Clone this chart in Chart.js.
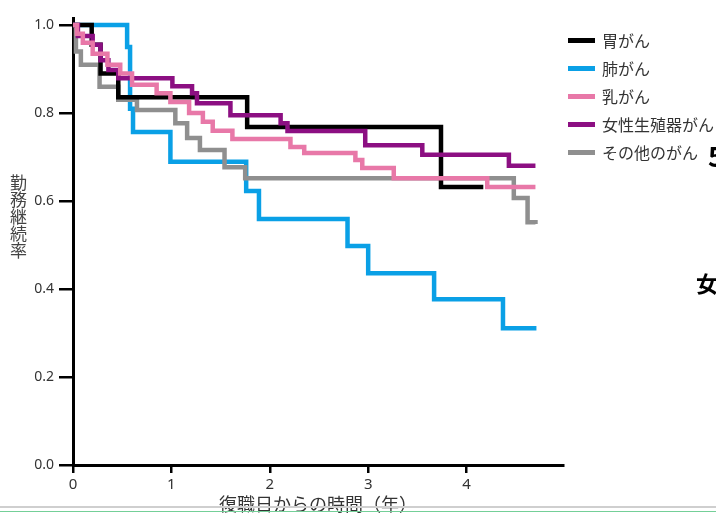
<!DOCTYPE html>
<html lang="ja">
<head>
<meta charset="UTF-8">
<title>勤務継続率</title>
<script src="https://cdn.jsdelivr.net/npm/chart.js"></script>
<style>
    html, body { margin: 0; padding: 0; background: #fff; overflow: hidden; }
    #wrap { position: relative; width: 716px; height: 513px; overflow: hidden; }
    canvas { position: absolute; left: 0; top: 0; }
    .ytitle {
        position: absolute; left: 10px; top: 174px;
        writing-mode: vertical-rl; text-orientation: upright;
        font: 17px "Noto Sans CJK JP"; line-height: 1; color: #444;
    }
    #legend { position: absolute; left: 568px; top: 28px; }
    .item { position: relative; height: 28px; white-space: nowrap; }
    .mark { position: absolute; left: 0; top: 10px; width: 27px; height: 5px; }
    .lbl { position: absolute; left: 34px; top: 0; font: 16px "Noto Sans CJK JP"; line-height: 24px; color: #333; }
    .cut { position: absolute; font-family: "Noto Sans CJK JP"; font-weight: bold; color: #000; }
    .rule { position: absolute; left: 0; width: 716px; }
</style>
</head>
<body>
<div id="wrap">
    <canvas id="kmChart" width="716" height="513"></canvas>
    <div class="ytitle">勤務継続率</div>
    <div id="legend"></div>
    <div class="cut" style="left:708px; top:136px; font-size:27px;">5</div>
    <div class="cut" style="left:696px; top:266px; font-size:22px;">女</div>
    <div class="rule" style="top:506px; height:2px; background:#cfcfcf;"></div>
    <div class="rule" style="top:511px; height:1px; background:#74cf98;"></div>
</div>

<script>
    // 系列名と色
    const seriesNames = ['胃がん', '肺がん', '乳がん', '女性生殖器がん', 'その他のがん'];
    const seriesColors = ['#000000', '#0aa0e6', '#e878a8', '#8c0f82', '#8f8f8f'];

    // 時間（年）と継続率 — 図から読み取った値
    const stomachT = [0, 0.19, 0.28, 0.46, 1.77, 3.74, 4.17];
    const stomachS = [1.0, 0.955, 0.89, 0.836, 0.768, 0.632, 0.632];

    const lungT = [0, 0.55, 0.58, 0.61, 0.99, 1.76, 1.89, 2.79, 3.0, 3.67, 4.37, 4.71];
    const lungS = [1.0, 0.95, 0.81, 0.757, 0.689, 0.623, 0.559, 0.498, 0.436, 0.377, 0.311, 0.311];

    const breastT = [0, 0.04, 0.1, 0.2, 0.35, 0.48, 0.6, 0.85, 0.99, 1.18, 1.32, 1.42, 1.62, 2.21, 2.35, 2.87, 2.94, 3.26, 4.21, 4.70];
    const breastS = [1.0, 0.98, 0.96, 0.935, 0.91, 0.89, 0.864, 0.845, 0.825, 0.80, 0.78, 0.76, 0.741, 0.723, 0.709, 0.693, 0.675, 0.652, 0.632, 0.632];

    const femaleT = [0, 0.05, 0.2, 0.28, 0.36, 0.46, 1.01, 1.21, 1.26, 1.60, 2.11, 2.18, 2.97, 3.55, 4.43, 4.70];
    const femaleS = [1.0, 0.975, 0.955, 0.92, 0.898, 0.879, 0.861, 0.845, 0.822, 0.795, 0.777, 0.759, 0.727, 0.705, 0.68, 0.68];

    const otherT = [0, 0.03, 0.08, 0.27, 0.46, 0.65, 1.04, 1.16, 1.29, 1.54, 1.75, 4.48, 4.62, 4.70];
    const otherS = [1.0, 0.94, 0.91, 0.86, 0.83, 0.807, 0.777, 0.743, 0.716, 0.677, 0.652, 0.607, 0.552, 0.548];

    const xTicks = [0, 1, 2, 3, 4];

    const series = [[stomachT, stomachS], [lungT, lungS], [breastT, breastS], [femaleT, femaleS], [otherT, otherS]];
    const drawOrder = [3, 5, 1, 2, 4]; // 小さいほど上に描画

    const datasets = series.map(([t, s], i) => ({
        label: seriesNames[i],
        data: t.map((x, k) => ({ x: x, y: s[k] })),
        borderColor: seriesColors[i],
        borderWidth: 4.5,
        stepped: 'before',
        pointRadius: 0,
        fill: false,
        order: drawOrder[i]
    }));

    // 凡例（HTML）
    const legend = document.getElementById('legend');
    seriesNames.forEach((name, i) => {
        const row = document.createElement('div');
        row.className = 'item';
        row.innerHTML = `<span class="mark" style="background:${seriesColors[i]}"></span><span class="lbl">${name}</span>`;
        legend.appendChild(row);
    });

    new Chart(document.getElementById('kmChart'), {
        type: 'line',
        data: { datasets: datasets },
        options: {
            responsive: false,
            animation: false,
            layout: { padding: { left: 0, top: 18, right: 153, bottom: 0 } },
            plugins: { legend: { display: false }, tooltip: { enabled: false } },
            scales: {
                x: {
                    type: 'linear',
                    min: 0,
                    max: 4.98,
                    afterFit: s => { s.height = 48; },
                    afterBuildTicks: s => { s.ticks = xTicks.map(v => ({ value: v })); },
                    border: { display: true, color: '#000', width: 3 },
                    grid: { display: true, drawOnChartArea: false, drawTicks: true, tickLength: 8, color: '#000', lineWidth: 2.5 },
                    ticks: {
                        padding: 3,
                        color: '#333',
                        font: { family: '"Liberation Sans Narrow", "Noto Sans"', size: 15 },
                        callback: v => String(v)
                    },
                    title: {
                        display: true,
                        text: '復職日からの時間（年）',
                        color: '#333',
                        font: { family: '"Noto Sans CJK JP"', size: 18, lineHeight: 1 },
                        padding: 0
                    }
                },
                y: {
                    min: 0,
                    max: 1.016,
                    afterFit: s => { s.width = 73; },
                    border: { display: true, color: '#000', width: 3 },
                    grid: { display: true, drawOnChartArea: false, drawTicks: true, tickLength: 14, color: '#000', lineWidth: 2.5 },
                    ticks: {
                        stepSize: 0.2,
                        includeBounds: false,
                        padding: 5,
                        color: '#333',
                        font: { family: '"Noto Sans"', size: 14 },
                        callback: v => v.toFixed(1)
                    }
                }
            }
        }
    });
</script>
</body>
</html>
